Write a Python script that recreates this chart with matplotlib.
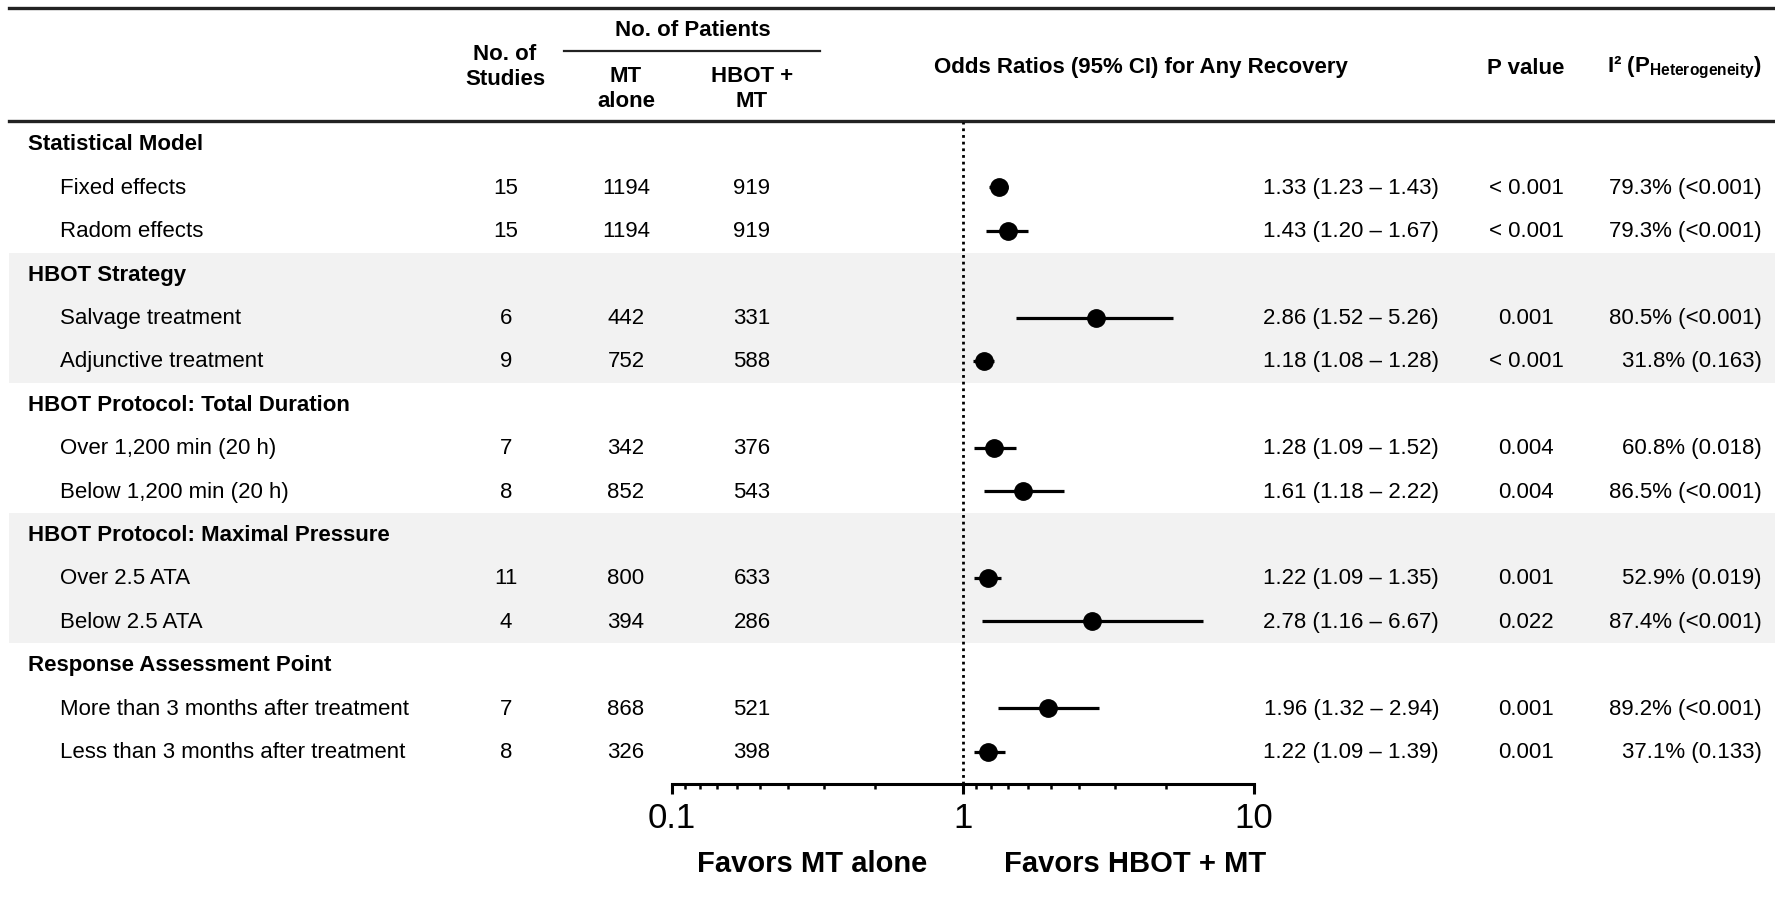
import matplotlib.pyplot as plt
from matplotlib.patches import Rectangle

plt.rcParams['font.family'] = ['Liberation Sans', 'DejaVu Sans']
plt.rcParams['mathtext.fontset'] = 'custom'
plt.rcParams['mathtext.bf'] = 'Liberation Sans:bold'
plt.rcParams['mathtext.rm'] = 'Liberation Sans'

# data
groups = ['Statistical Model', 'HBOT Strategy', 'HBOT Protocol: Total Duration',
          'HBOT Protocol: Maximal Pressure', 'Response Assessment Point']
shaded = [False, True, False, True, False]
labels = ['Fixed effects', 'Radom effects',
          'Salvage treatment', 'Adjunctive treatment',
          'Over 1,200 min (20 h)', 'Below 1,200 min (20 h)',
          'Over 2.5 ATA', 'Below 2.5 ATA',
          'More than 3 months after treatment', 'Less than 3 months after treatment']
studies = [15, 15, 6, 9, 7, 8, 11, 4, 7, 8]
n_mt = [1194, 1194, 442, 752, 342, 852, 800, 394, 868, 326]
n_hbot = [919, 919, 331, 588, 376, 543, 633, 286, 521, 398]
odds = [1.33, 1.43, 2.86, 1.18, 1.28, 1.61, 1.22, 2.78, 1.96, 1.22]
ci_lo = [1.23, 1.20, 1.52, 1.08, 1.09, 1.18, 1.09, 1.16, 1.32, 1.09]
ci_hi = [1.43, 1.67, 5.26, 1.28, 1.52, 2.22, 1.35, 6.67, 2.94, 1.39]
p_vals = ['< 0.001', '< 0.001', '0.001', '< 0.001', '0.004', '0.004',
          '0.001', '0.022', '0.001', '0.001']
i2 = ['79.3% (<0.001)', '79.3% (<0.001)', '80.5% (<0.001)', '31.8% (0.163)',
      '60.8% (0.018)', '86.5% (<0.001)', '52.9% (0.019)', '87.4% (<0.001)',
      '89.2% (<0.001)', '37.1% (0.133)']

W, H = 1775, 903
y0, dy = 145, 43.4   # first row centre and row step in pixels

fig = plt.figure(figsize=(W / 100, H / 100), dpi=100)
ax = fig.add_axes([0, 0, 1, 1])
ax.set_xlim(0, W)
ax.set_ylim(H, 0)
ax.axis('off')

# forest plot axes (log scale)
ax_top, ax_bot = 123, 785
x_l, x_r = 672, 1254
fx = fig.add_axes([x_l / W, 1 - ax_bot / H, (x_r - x_l) / W, (ax_bot - ax_top) / H])
fx.set_xscale('log')
fx.set_xlim(0.1, 10)
fx.set_ylim((ax_bot - y0) / dy, (ax_top - y0) / dy)
fx.patch.set_visible(False)
for s in ['top', 'left', 'right']:
    fx.spines[s].set_visible(False)
fx.spines['bottom'].set_linewidth(2.2)
fx.set_yticks([])
fx.set_xticks([0.1, 1, 10])
fx.set_xticklabels(['0.1', '1', '10'])
minor = [1 / k for k in range(2, 10)] + [10 / k for k in range(2, 10)]
fx.set_xticks(minor, minor=True)
fx.xaxis.set_minor_formatter(plt.NullFormatter())
fx.tick_params(axis='x', which='major', length=7.5, width=2.2, pad=5, labelsize=25)
fx.tick_params(axis='x', which='minor', length=3.5, width=1.8)
fx.axvline(1, color='black', lw=2, linestyle=(0, (1, 1.4)), zorder=1)

# header
ax.plot([9, W], [9, 9], color='#222222', lw=2.4)
ax.plot([9, W], [122, 122], color='#222222', lw=2.4)
ax.plot([564, 820], [52, 52], color='#222222', lw=1.6)
hb = dict(fontsize=16, fontweight='bold', va='center')
ax.text(693, 31, 'No. of Patients', ha='center', **hb)
ax.text(505, 67, 'No. of\nStudies', ha='center', linespacing=1.3, **hb)
ax.text(626, 89, 'MT\nalone', ha='center', linespacing=1.3, **hb)
ax.text(752, 89, 'HBOT +\nMT', ha='center', linespacing=1.3, **hb)
ax.text(1141, 68, 'Odds Ratios (95% CI) for Any Recovery', ha='center', **hb)
ax.text(1526, 68, 'P value', ha='center', **hb)
ax.text(1762, 68, r'I² (P$_{\mathbf{Heterogeneity}}$)', ha='right', **hb)

# rows
k = 0
for g, name in enumerate(groups):
    gy = 3 * g
    if shaded[g]:
        top = y0 + dy * (gy - 0.5)
        ax.add_patch(Rectangle((9, top), W - 9, 3 * dy, color='#f2f2f2', lw=0, zorder=0))
    ax.text(28, y0 + dy * gy, name, fontsize=16, fontweight='bold', va='center')
    for j in range(2):
        r = gy + 1 + j
        py = y0 + dy * r
        ax.text(60, py, labels[k], fontsize=16, va='center')
        ax.text(506, py, str(studies[k]), fontsize=16, va='center', ha='center')
        ax.text(626, py, str(n_mt[k]), fontsize=16, va='center', ha='center')
        ax.text(752, py, str(n_hbot[k]), fontsize=16, va='center', ha='center')
        ax.text(1439, py, f'{odds[k]:.2f} ({ci_lo[k]:.2f} \u2013 {ci_hi[k]:.2f})',
                fontsize=16, va='center', ha='right')
        ax.text(1526, py, p_vals[k], fontsize=16, va='center', ha='center')
        ax.text(1762, py, i2[k], fontsize=16, va='center', ha='right')
        fx.plot([ci_lo[k], ci_hi[k]], [r, r], color='black', lw=2.3, solid_capstyle='butt')
        fx.plot(odds[k], r, 'o', color='black', ms=12.5)
        k += 1

ax.text(812, 864, 'Favors MT alone', fontsize=21, fontweight='bold', ha='center', va='center')
ax.text(1135, 864, 'Favors HBOT + MT', fontsize=21, fontweight='bold', ha='center', va='center')

fig.savefig('out.png', dpi=100)
